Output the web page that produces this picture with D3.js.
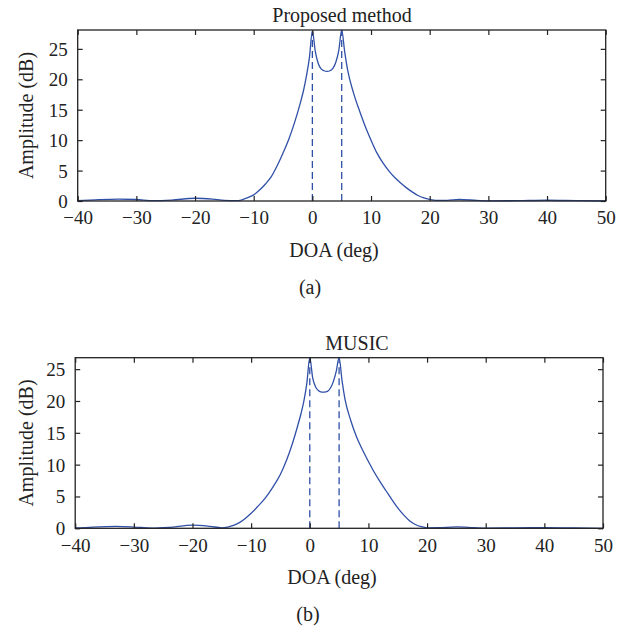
<!DOCTYPE html>
<html>
<head>
<meta charset="utf-8">
<script src="https://cdn.jsdelivr.net/npm/d3@7"></script>
<style>
  body { margin: 0; background: #fff; }
  text { font-family: 'Liberation Serif', 'DejaVu Serif', serif; fill: #222; }
</style>
</head>
<body>
<script>
// data (deg -> dB)
const doaProposed = [-40, -37, -33, -30, -27, -24, -20, -17, -15, -13, -12, -11, -10, -9, -8, -7, -6, -5, -4, -3,
  -2, -1.5, -1, -0.5, 0, 0.5, 1, 1.5, 2, 2.5, 3, 3.5, 4, 4.5, 5, 5.5, 6, 7, 8, 9,
  10, 11, 12, 13, 14, 15, 16, 17, 18, 19, 20, 21, 23, 25, 28, 30, 35, 40, 45, 50];
const ampProposed = [0.05, 0.2, 0.32, 0.25, 0.05, 0.15, 0.45, 0.3, 0.1, 0.05, 0.2, 0.55, 1.0, 1.8, 2.8, 4.0, 5.8, 7.9, 10.2, 13.0,
  16.3, 18.2, 20.6, 23.6, 27.9, 24.6, 22.6, 21.7, 21.4, 21.3, 21.4, 21.8, 22.8, 24.7, 28.1, 24.6, 21.6, 17.8, 14.9, 12.3,
  10.0, 7.9, 6.3, 5.0, 3.9, 3.0, 2.2, 1.5, 0.9, 0.5, 0.25, 0.1, 0.1, 0.25, 0.1, 0.02, 0.05, 0.12, 0.05, 0.0];

const doaMusic = [-40, -37, -33, -30, -27, -24, -20, -17, -15, -14, -13, -12, -11, -10, -9, -8, -7, -6, -5, -4,
  -3, -2, -1.5, -1, -0.5, 0, 0.5, 1, 1.5, 2, 2.5, 3, 3.5, 4, 4.5, 5, 5.5, 6, 7, 8,
  9, 10, 11, 12, 13, 14, 15, 16, 17, 18, 19, 20, 22, 25, 28, 30, 35, 40, 45, 50];
const ampMusic = [0.05, 0.2, 0.3, 0.2, 0.03, 0.15, 0.5, 0.3, 0.08, 0.2, 0.45, 0.9, 1.55, 2.35, 3.3, 4.3, 5.5, 6.9, 8.5, 10.6,
  13.2, 16.3, 18.0, 20.0, 22.8, 26.8, 23.6, 22.2, 21.6, 21.4, 21.4, 21.5, 22.0, 23.0, 24.6, 26.8, 23.2, 20.3, 16.9, 14.3,
  12.3, 10.5, 8.8, 7.3, 5.9, 4.5, 3.2, 2.1, 1.2, 0.6, 0.25, 0.08, 0.1, 0.22, 0.1, 0.02, 0.06, 0.1, 0.05, 0.0];

const sourceDoa = [0, 5];
const xTicks = [-40, -30, -20, -10, 0, 10, 20, 30, 40, 50];
const yTicks = [0, 5, 10, 15, 20, 25];

const lineColor = '#3050a8';

const svg = d3.select('body').append('svg')
  .attr('width', 631)
  .attr('height', 634);

function drawPanel(p) {
  const x = d3.scaleLinear().domain([-40, 50]).range([p.left, p.right]);
  const y = d3.scaleLinear().domain([0, p.ymax]).range([p.bottom, p.top]);
  const g = svg.append('g');

  // dashed markers at the true directions
  const peakAt = (deg) => p.amp[p.doa.indexOf(deg)];
  g.selectAll('line.src')
    .data(sourceDoa)
    .join('line')
    .attr('x1', (d) => x(d)).attr('x2', (d) => x(d))
    .attr('y1', y(0)).attr('y2', (d) => y(peakAt(d)))
    .attr('stroke', lineColor)
    .attr('stroke-width', 1.3)
    .attr('stroke-dasharray', '7,4');

  // spectrum
  const line = d3.line()
    .x((d, i) => x(p.doa[i]))
    .y((d) => y(d))
    .curve(d3.curveMonotoneX);
  g.append('path')
    .attr('d', line(p.amp))
    .attr('fill', 'none')
    .attr('stroke', lineColor)
    .attr('stroke-width', 1.3);

  // axes with inward ticks on all four sides
  const ax = (gen, tx, ty, labels) => {
    const a = g.append('g').attr('transform', `translate(${tx},${ty})`);
    gen.tickSize(-5).tickPadding(labels ? p.pad : 0);
    if (!labels) gen.tickFormat('');
    a.call(gen);
    a.select('.domain').remove();
    a.selectAll('line').attr('stroke', '#222').attr('stroke-width', 1.2);
    a.selectAll('text').attr('font-size', 19).attr('fill', '#222')
      .style('font-family', "'Liberation Serif', serif");
    return a;
  };
  ax(d3.axisBottom(x).tickValues(xTicks), 0, p.bottom, true);
  ax(d3.axisTop(x).tickValues(xTicks), 0, p.top, false);
  ax(d3.axisLeft(y).tickValues(yTicks), p.left, 0, true).selectAll('text').attr('dy', '0.34em');
  ax(d3.axisRight(y).tickValues(yTicks), p.right, 0, false);

  g.append('rect')
    .attr('x', p.left).attr('y', p.top)
    .attr('width', p.right - p.left).attr('height', p.bottom - p.top)
    .attr('fill', 'none').attr('stroke', '#222').attr('stroke-width', 1.3);

  g.append('text')
    .attr('x', p.titleX).attr('y', p.top - 8)
    .attr('text-anchor', 'middle').attr('font-size', 20)
    .text(p.title);

  g.append('text')
    .attr('x', p.xLabelX).attr('y', p.bottom + 56)
    .attr('text-anchor', 'middle').attr('font-size', 20)
    .text('DOA (deg)');

  g.append('text')
    .attr('transform', `translate(33,${(p.top + p.bottom) / 2}) rotate(-90)`)
    .attr('text-anchor', 'middle').attr('font-size', 20)
    .text('Amplitude (dB)');

  g.append('text')
    .attr('x', p.capX).attr('y', p.bottom + 93)
    .attr('text-anchor', 'middle').attr('font-size', 20)
    .text(p.caption);
}

drawPanel({ doa: doaProposed, amp: ampProposed, title: 'Proposed method', caption: '(a)',
  left: 77.7, right: 605.7, top: 30, bottom: 201, ymax: 28.1, pad: 10,
  titleX: 342, xLabelX: 334, capX: 310 });
drawPanel({ doa: doaMusic, amp: ampMusic, title: 'MUSIC', caption: '(b)',
  left: 75.2, right: 603, top: 357.7, bottom: 528.3, ymax: 26.8, pad: 10,
  titleX: 357, xLabelX: 332, capX: 308 });
</script>
</body>
</html>
